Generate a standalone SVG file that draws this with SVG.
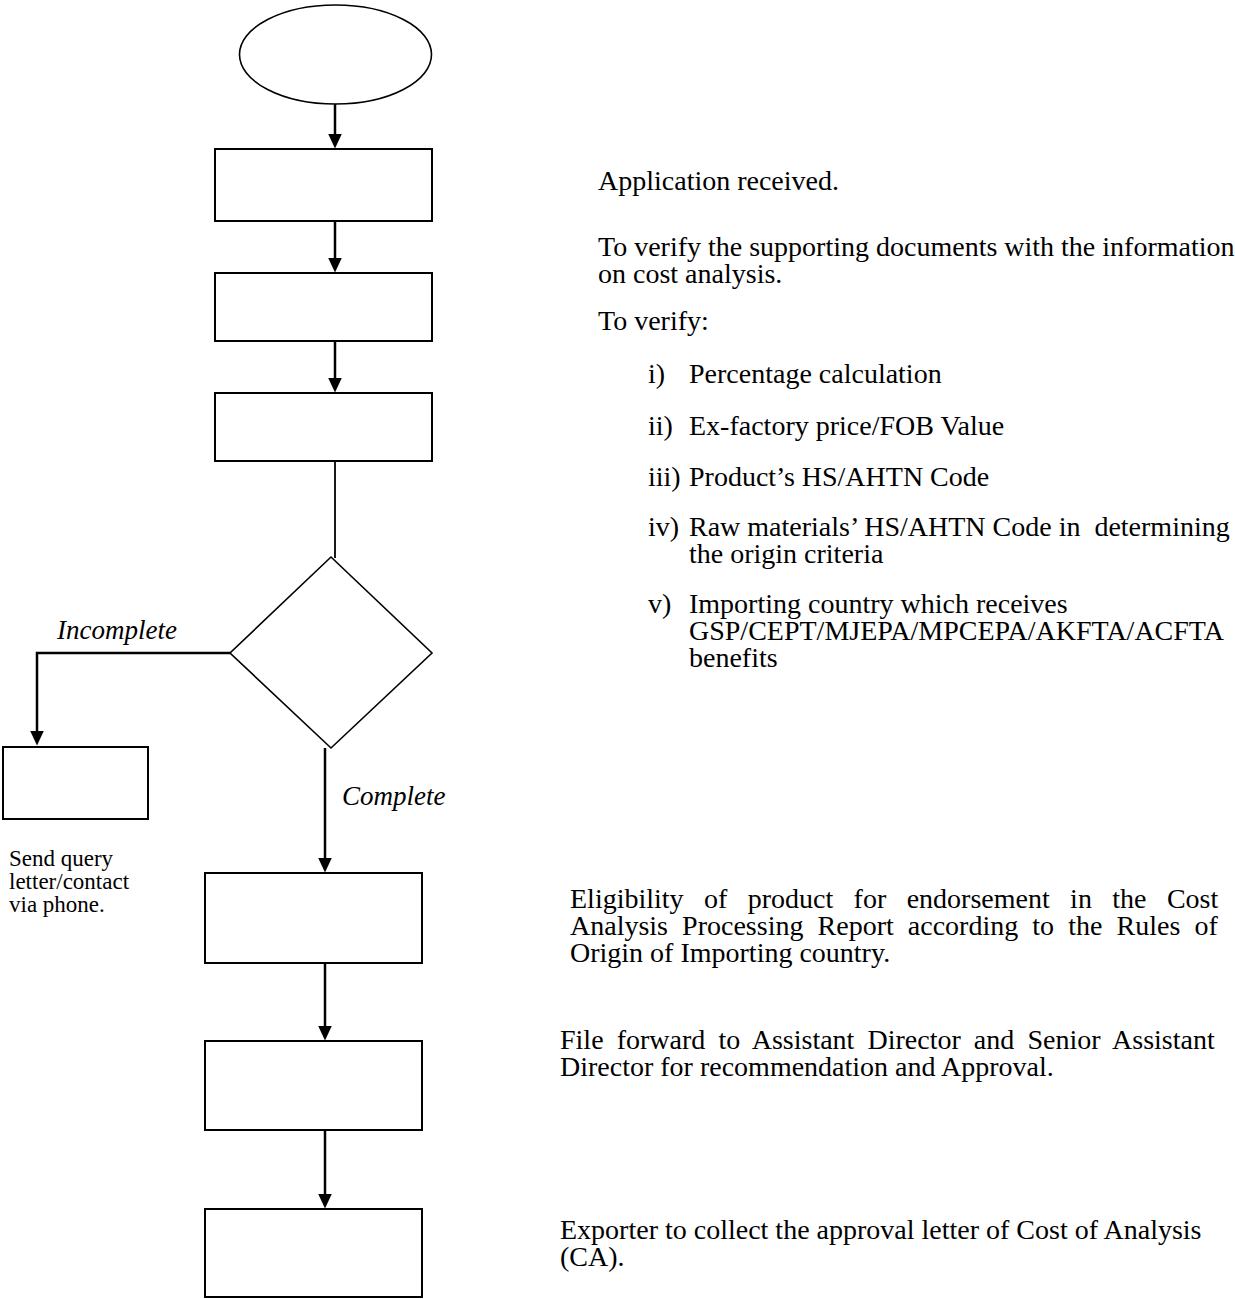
<svg xmlns="http://www.w3.org/2000/svg" width="1235" height="1299" viewBox="0 0 1235 1299">
<style>
.shape{fill:#fff;stroke:#000;stroke-width:2}
.thin{fill:#fff;stroke:#000;stroke-width:1.6}
.conn{fill:none;stroke:#000;stroke-width:2.5}
.plain{fill:none;stroke:#000;stroke-width:1.8}
.t{font-family:"Liberation Serif","Times New Roman",serif;font-size:28px;fill:#000}
.lab{font-family:"Liberation Serif","Times New Roman",serif;font-size:27px;font-style:italic;fill:#000}
.s{font-family:"Liberation Serif","Times New Roman",serif;font-size:23px;fill:#000}
</style>
<defs>
<marker id="ah" markerUnits="userSpaceOnUse" markerWidth="16" markerHeight="16" viewBox="0 0 16 16" refX="0.5" refY="8" orient="auto">
<path d="M0,1 L15,8 L0,15 Z" fill="#000"/>
</marker>
</defs>
<rect width="1235" height="1299" fill="#fff"/>
<g id="connectors">
<path class="conn" d="M335,104 V134" marker-end="url(#ah)"/>
<path class="conn" d="M335,221 V258" marker-end="url(#ah)"/>
<path class="conn" d="M335,341 V378" marker-end="url(#ah)"/>
<path class="plain" d="M335,461 V558"/>
<path class="conn" d="M230,653 H37 V731" marker-end="url(#ah)"/>
<path class="conn" d="M325,748 V858" marker-end="url(#ah)"/>
<path class="conn" d="M325,963 V1026" marker-end="url(#ah)"/>
<path class="conn" d="M325,1130 V1194" marker-end="url(#ah)"/>
</g>
<g id="start"><ellipse class="thin" cx="335.5" cy="54.5" rx="96" ry="49.5"/></g>
<g id="box1"><rect class="shape" x="215" y="149" width="217" height="72"/></g>
<g id="box2"><rect class="shape" x="215" y="273" width="217" height="68"/></g>
<g id="box3"><rect class="shape" x="215" y="393" width="217" height="68"/></g>
<g id="decision"><polygon class="thin" points="331,557 432,653 331,748 230,653"/></g>
<g id="query"><rect class="shape" x="3" y="747" width="145" height="72"/></g>
<g id="box4"><rect class="shape" x="205" y="873" width="217" height="90"/></g>
<g id="box5"><rect class="shape" x="205" y="1041" width="217" height="89"/></g>
<g id="box6"><rect class="shape" x="205" y="1209" width="217" height="88"/></g>
<g id="labels">
<text class="lab" x="57" y="639">Incomplete</text>
<text class="lab" x="342" y="805">Complete</text>
<text class="s" x="9" y="866">Send query</text>
<text class="s" x="9" y="889">letter/contact</text>
<text class="s" x="9" y="912">via phone.</text>
</g>
<g id="notes">
<text class="t" x="598" y="190">Application received.</text>
<text class="t" x="598" y="256">To verify the supporting documents with the information</text>
<text class="t" x="598" y="283">on cost analysis.</text>
<text class="t" x="598" y="330">To verify:</text>
<text class="t" x="648" y="383">i)</text><text class="t" x="689" y="383">Percentage calculation</text>
<text class="t" x="648" y="435">ii)</text><text class="t" x="689" y="435">Ex-factory price/FOB Value</text>
<text class="t" x="648" y="486">iii)</text><text class="t" x="689" y="486">Product’s HS/AHTN Code</text>
<text class="t" x="648" y="536">iv)</text><text class="t" x="689" y="536" xml:space="preserve">Raw materials’ HS/AHTN Code in  determining</text>
<text class="t" x="689" y="563">the origin criteria</text>
<text class="t" x="648" y="613">v)</text><text class="t" x="689" y="613">Importing country which receives</text>
<text class="t" x="689" y="640">GSP/CEPT/MJEPA/MPCEPA/AKFTA/ACFTA</text>
<text class="t" x="689" y="667">benefits</text>
<text class="t" x="570" y="908" word-spacing="13.4">Eligibility of product for endorsement in the Cost</text>
<text class="t" x="570" y="935" word-spacing="7.1">Analysis Processing Report according to the Rules of</text>
<text class="t" x="570" y="962">Origin of Importing country.</text>
<text class="t" x="560" y="1049" word-spacing="6.1">File forward to Assistant Director and Senior Assistant</text>
<text class="t" x="560" y="1076">Director for recommendation and Approval.</text>
<text class="t" x="560" y="1239">Exporter to collect the approval letter of Cost of Analysis</text>
<text class="t" x="560" y="1266">(CA).</text>
</g>
</svg>
